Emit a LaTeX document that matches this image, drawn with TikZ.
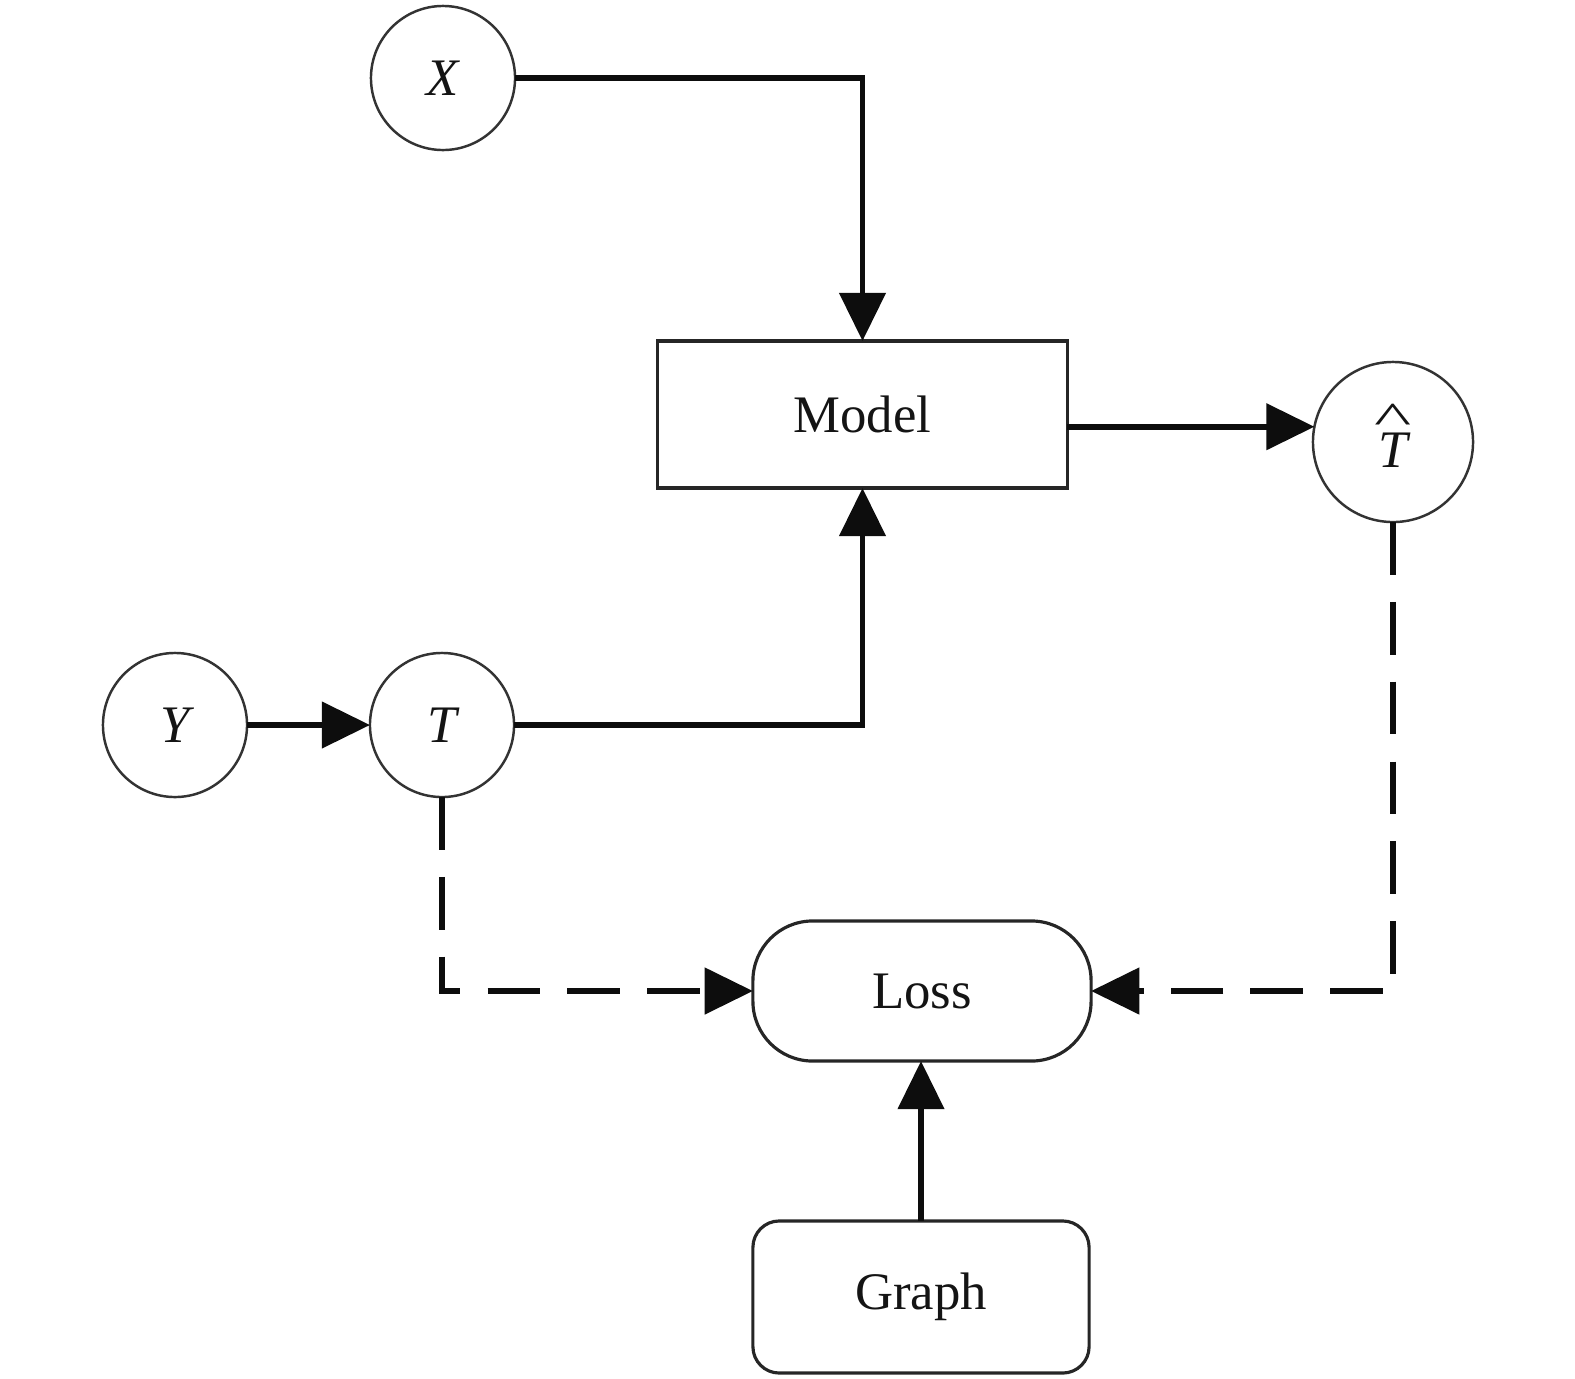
\documentclass[tikz,border=0pt]{standalone}
\usepackage{fontspec}
\setmainfont{Liberation Serif}
\usetikzlibrary{arrows.meta}
\newcommand\hatT{\setbox0\hbox{\itshape T}\rlap{\hbox to \wd0{\hss\smash{\raisebox{0.64em}{\scalebox{1.5}[0.85]{\upshape\char"005E}}}\hss}}\box0}
\begin{document}
\begin{tikzpicture}[x=0.01cm,y=-0.01cm,
  every node/.style={font=\fontsize{15}{18}\selectfont, outer sep=0pt, inner sep=0pt, text=black!92},
  circ/.style={circle, draw=black!80, line width=0.7pt, minimum size=1.44cm},
  bigcirc/.style={circ, minimum size=1.6cm},
  modelbox/.style={rectangle, draw=black!85, line width=0.9pt, minimum width=4.09cm, minimum height=1.47cm},
  lossbox/.style={rectangle, draw=black!85, line width=0.9pt, rounded corners=17pt, minimum width=3.38cm, minimum height=1.40cm},
  graphbox/.style={rectangle, draw=black!85, line width=0.9pt, rounded corners=7.5pt, minimum width=3.36cm, minimum height=1.52cm},
  conn/.style={line width=1.6pt, draw=black!95, -{Triangle[length=13.7pt,width=13pt]}},
  dashline/.style={dash pattern=on 15pt off 7.7pt}
]
\useasboundingbox (0,0) rectangle (1575,1378);

\node[circ] (X) at (443,78) {\itshape X};
\node[circ] (Y) at (175,725) {\itshape Y};
\node[circ] (T) at (442,725) {\itshape T};
\node[bigcirc] (That) at (1393,442) {\raisebox{-2.4pt}[\height][\depth]{\hatT}};
\node[modelbox] (Model) at (862.5,414.5) {Model};
\node[lossbox] (Loss) at (922,991) {Loss};
\node[graphbox] (Graph) at (921,1297) {Graph};

\draw[conn] (X.east) -| (Model.north);
\draw[conn] (T.east) -| (Model.south);
\draw[conn] (Y) -- (T);
\draw[conn] (That.169 -| Model.east) -- (That.169);
\draw[conn,dashline] (T.south) |- (Loss.west);
\draw[conn,dashline] (That.south) |- (Loss.east);
\draw[conn] (Graph.north) -- (Graph.north |- Loss.south);
\end{tikzpicture}
\end{document}
